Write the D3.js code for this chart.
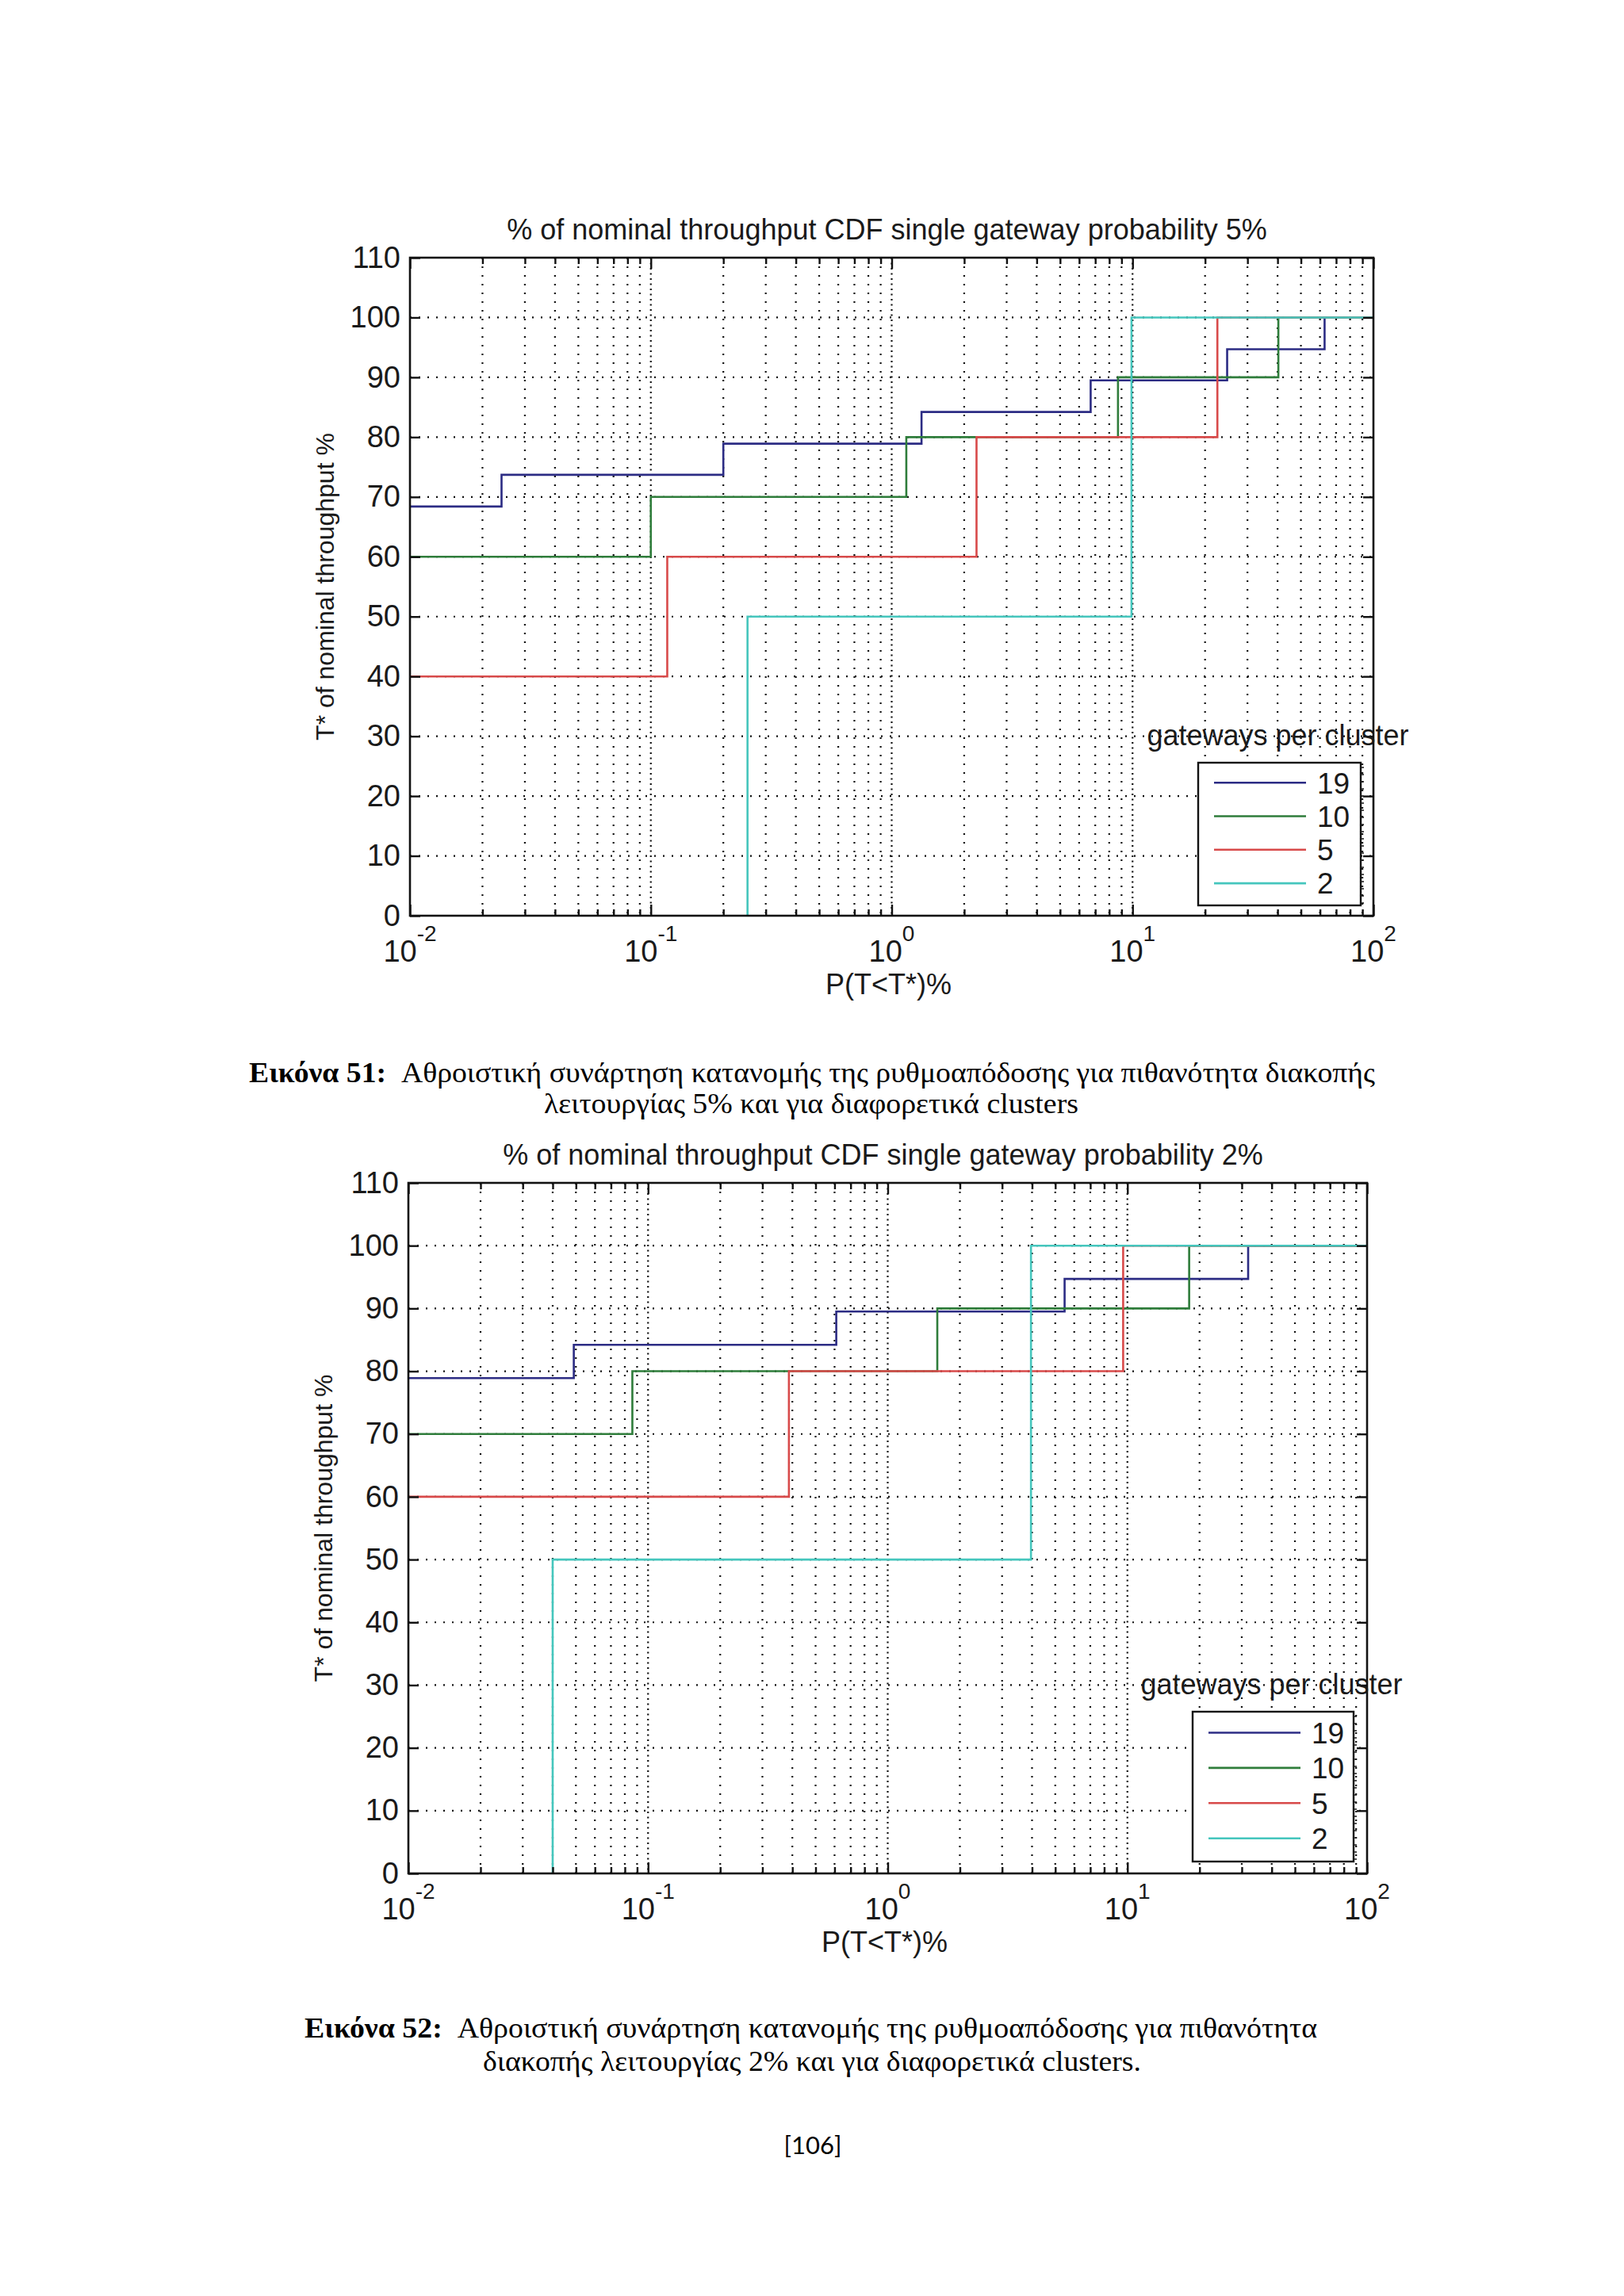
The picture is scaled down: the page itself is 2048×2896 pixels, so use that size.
<!DOCTYPE html>
<html>
<head>
<meta charset="utf-8">
<script src="https://cdn.jsdelivr.net/npm/d3@7/dist/d3.min.js"></script>
<style>
  body { margin: 0; background: #fff; }
</style>
</head>
<body>
<script>
// tick labels / categories
const yTicks = [0, 10, 20, 30, 40, 50, 60, 70, 80, 90, 100, 110];
const xDecades = [1e-2, 1e-1, 1e0, 1e1, 1e2];
const xExponents = ["-2", "-1", "0", "1", "2"];
const seriesNames = ["19", "10", "5", "2"];
const seriesColors = ["#2c2c84", "#2f7d3b", "#d84a4a", "#45c6bd"];

// figure 51: single gateway probability 5%
const p5_x19 = [0.01, 0.024, 0.20, 1.33, 6.7, 24.7, 62.7, 100];
const p5_y19 = [68.4, 73.7, 78.9, 84.2, 89.5, 94.7, 100, 100];
const p5_x10 = [0.01, 0.1, 1.15, 8.7, 40.3, 100];
const p5_y10 = [60, 70, 80, 90, 100, 100];
const p5_x5 = [0.01, 0.117, 2.25, 22.5, 100];
const p5_y5 = [40, 60, 80, 100, 100];
const p5_x2 = [0.252, 0.252, 9.9, 100];
const p5_y2 = [0, 50, 100, 100];

// figure 52: single gateway probability 2%
const p2_x19 = [0.01, 0.049, 0.61, 5.47, 31.9, 100];
const p2_y19 = [78.9, 84.2, 89.5, 94.7, 100, 100];
const p2_x10 = [0.01, 0.086, 1.61, 18.1, 100];
const p2_y10 = [70, 80, 90, 100, 100];
const p2_x5 = [0.01, 0.387, 9.6, 100];
const p2_y5 = [60, 80, 100, 100];
const p2_x2 = [0.04, 0.04, 3.96, 100];
const p2_y2 = [0, 50, 100, 100];

const W = 2048, H = 2896;
const FONT = "'Liberation Sans', Arial, Helvetica, sans-serif";
const SERIF = "'Liberation Serif', 'Times New Roman', serif";
const INK = "#1a1a1a";

// minor log ticks 2..9 of every decade
const minorTicks = [];
[-2, -1, 0, 1].forEach(e => {
  for (let k = 2; k <= 9; k++) minorTicks.push(k * Math.pow(10, e));
});

const svg = d3.select("body").append("svg")
  .attr("width", W)
  .attr("height", H)
  .attr("viewBox", `0 0 ${W} ${H}`)
  .style("background", "#fff");

function drawChart(c) {
  const x = d3.scaleLog().domain([1e-2, 1e2]).range([c.left, c.right]);
  const y = d3.scaleLinear().domain([0, 110]).range([c.bottom, c.top]);
  const g = svg.append("g");

  // dotted grid
  const grid = g.append("g").attr("stroke", "#111").attr("stroke-width", 2.2);
  grid.selectAll("line.minor").data(minorTicks).join("line")
    .attr("class", "minor")
    .attr("x1", d => x(d)).attr("x2", d => x(d))
    .attr("y1", c.top).attr("y2", c.bottom)
    .attr("stroke-dasharray", "2 9");
  grid.selectAll("line.major").data(xDecades.slice(1, -1)).join("line")
    .attr("class", "major")
    .attr("x1", d => x(d)).attr("x2", d => x(d))
    .attr("y1", c.top).attr("y2", c.bottom)
    .attr("stroke-dasharray", "2 4.5");
  grid.selectAll("line.h").data(yTicks.slice(1, -1)).join("line")
    .attr("class", "h")
    .attr("x1", c.left).attr("x2", c.right)
    .attr("y1", d => y(d)).attr("y2", d => y(d))
    .attr("stroke-dasharray", "2 9");

  // stairs
  const line = d3.line()
    .x(d => x(d[0]))
    .y(d => y(d[1]))
    .curve(d3.curveStepAfter);
  c.series.forEach((s, i) => {
    g.append("path")
      .attr("d", line(d3.zip(s[0], s[1])))
      .attr("fill", "none")
      .attr("stroke", seriesColors[i])
      .attr("stroke-width", 2.6);
  });

  // axes (ticks inward)
  const axes = g.append("g");
  axes.append("g").attr("transform", `translate(0,${c.bottom})`)
    .call(d3.axisBottom(x).tickValues(xDecades).tickSize(-14).tickFormat(""));
  axes.append("g").attr("transform", `translate(0,${c.bottom})`)
    .call(d3.axisBottom(x).tickValues(minorTicks).tickSize(-8).tickFormat(""));
  axes.append("g").attr("transform", `translate(0,${c.top})`)
    .call(d3.axisTop(x).tickValues(xDecades).tickSize(-14).tickFormat(""));
  axes.append("g").attr("transform", `translate(0,${c.top})`)
    .call(d3.axisTop(x).tickValues(minorTicks).tickSize(-8).tickFormat(""));
  axes.append("g").attr("transform", `translate(${c.right},0)`)
    .call(d3.axisRight(y).tickValues(yTicks).tickSize(-13).tickFormat(""));
  const yAxis = axes.append("g").attr("transform", `translate(${c.left},0)`)
    .call(d3.axisLeft(y).tickValues(yTicks).tickSize(-13).tickPadding(12));
  axes.selectAll(".domain").remove();
  axes.selectAll(".tick line").attr("stroke", "#111").attr("stroke-width", 2.4);
  yAxis.selectAll("text")
    .attr("font-family", FONT).attr("font-size", 38).attr("fill", INK);

  // x tick labels 10^n
  const xl = g.append("g").attr("font-family", FONT).attr("fill", INK);
  xDecades.forEach((d, i) => {
    const t = xl.append("text")
      .attr("x", x(d))
      .attr("y", c.bottom + 58)
      .attr("text-anchor", "middle")
      .attr("font-size", 38)
      .text("10");
    t.append("tspan")
      .attr("dy", -26)
      .attr("font-size", 28)
      .text(xExponents[i]);
  });

  // box
  g.append("rect")
    .attr("x", c.left).attr("y", c.top)
    .attr("width", c.right - c.left).attr("height", c.bottom - c.top)
    .attr("fill", "none").attr("stroke", "#111").attr("stroke-width", 2.6);

  // titles
  g.append("text")
    .attr("x", (c.left + c.right) / 2 - 6).attr("y", c.top - 23)
    .attr("text-anchor", "middle")
    .attr("font-family", FONT).attr("font-size", 36).attr("fill", INK)
    .text(c.title);
  g.append("text")
    .attr("x", (c.left + c.right) / 2 - 4).attr("y", c.bottom + 99)
    .attr("text-anchor", "middle")
    .attr("font-family", FONT).attr("font-size", 36).attr("fill", INK)
    .text("P(T<T*)%");
  g.append("text")
    .attr("transform", `translate(${c.left - 96},${(c.top + c.bottom) / 2}) rotate(-90)`)
    .attr("text-anchor", "middle")
    .attr("font-family", FONT).attr("font-size", 32).attr("fill", INK)
    .text("T* of nominal throughput %");

  // legend
  const L = c.legend;
  const lw = L.x2 - L.x1, lh = L.y2 - L.y1;
  g.append("text")
    .attr("x", (L.x1 + L.x2) / 2 - 2).attr("y", L.y1 - 22)
    .attr("text-anchor", "middle")
    .attr("font-family", FONT).attr("font-size", 36).attr("fill", INK)
    .text("gateways per cluster");
  const lg = g.append("g");
  lg.append("rect")
    .attr("x", L.x1).attr("y", L.y1).attr("width", lw).attr("height", lh)
    .attr("fill", "#fff").attr("stroke", "#111").attr("stroke-width", 2.4);
  lg.selectAll("line.tk").data(d3.range(L.y1 + 6, L.y2 - 2, 9)).join("line")
    .attr("class", "tk")
    .attr("x1", L.x2).attr("x2", L.x2 + 4)
    .attr("y1", d => d).attr("y2", d => d)
    .attr("stroke", "#222").attr("stroke-width", 1.6);
  seriesNames.forEach((name, i) => {
    const yy = L.y1 + lh * (0.14 + i * 0.235);
    lg.append("line")
      .attr("x1", L.x1 + 20).attr("x2", L.x1 + 136)
      .attr("y1", yy).attr("y2", yy)
      .attr("stroke", seriesColors[i]).attr("stroke-width", 2.6);
    lg.append("text")
      .attr("x", L.x1 + 150).attr("y", yy)
      .attr("dy", "0.36em")
      .attr("font-family", FONT).attr("font-size", 37).attr("fill", INK)
      .text(name);
  });
}

drawChart({
  title: "% of nominal throughput CDF single gateway probability 5%",
  left: 517, right: 1732, top: 325, bottom: 1155,
  legend: { x1: 1511, x2: 1716, y1: 962, y2: 1142 },
  series: [[p5_x19, p5_y19], [p5_x10, p5_y10], [p5_x5, p5_y5], [p5_x2, p5_y2]]
});

drawChart({
  title: "% of nominal throughput CDF single gateway probability 2%",
  left: 515, right: 1724, top: 1492, bottom: 2363,
  legend: { x1: 1504, x2: 1707, y1: 2159, y2: 2348 },
  series: [[p2_x19, p2_y19], [p2_x10, p2_y10], [p2_x5, p2_y5], [p2_x2, p2_y2]]
});

// captions
function caption(x, y, len, bold, rest) {
  const t = svg.append("text")
    .attr("x", x).attr("y", y)
    .attr("font-family", SERIF).attr("font-size", 36).attr("fill", "#000")
    .attr("textLength", len).attr("lengthAdjust", "spacingAndGlyphs");
  if (bold) t.append("tspan").attr("font-weight", "bold").text(bold);
  t.append("tspan").text(rest);
}
caption(314, 1365, 1420, "Εικόνα 51:", "\u00a0\u00a0Αθροιστική συνάρτηση κατανομής της ρυθμοαπόδοσης για πιθανότητα διακοπής");
caption(686, 1404, 674, null, "λειτουργίας 5% και για διαφορετικά clusters");
caption(384, 2570, 1277, "Εικόνα 52:", "\u00a0\u00a0Αθροιστική συνάρτηση κατανομής της ρυθμοαπόδοσης για πιθανότητα");
caption(609, 2612, 830, null, "διακοπής λειτουργίας 2% και για διαφορετικά clusters.");

svg.append("text")
  .attr("x", 1025).attr("y", 2717)
  .attr("text-anchor", "middle")
  .attr("font-family", "Lato, 'Open Sans', sans-serif").attr("font-size", 31).attr("fill", "#000")
  .text("[106]");
</script>
</body>
</html>
